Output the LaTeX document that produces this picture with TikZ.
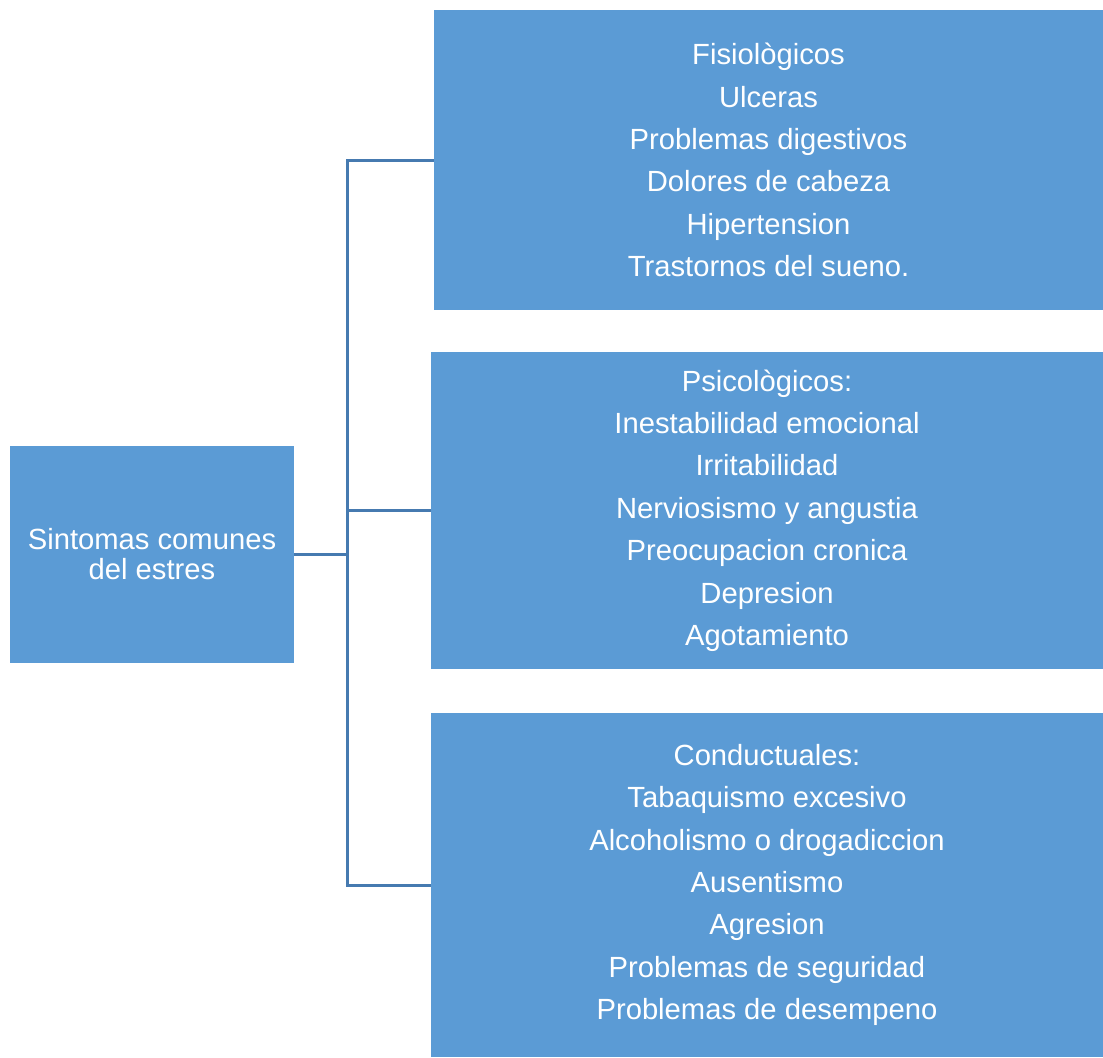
\documentclass[tikz,border=0pt]{standalone}
\usepackage{fontspec}
\setmainfont{Liberation Sans}
\definecolor{boxblue}{RGB}{91,155,213}
\definecolor{lineblue}{RGB}{70,122,176}
\begin{document}
\begin{tikzpicture}[x=.5pt,y=-.5pt,every node/.style={fill=boxblue,text=white,inner sep=0pt,align=center,font=\fontsize{14.6}{21.2}\selectfont},conn/.style={draw=lineblue,line width=1.5pt}]
\useasboundingbox (0,0) rectangle (1103,1057);
\node[minimum width=142pt,minimum height=108.5pt,font=\fontsize{14.6}{15}\selectfont] (root) at (152,554) {Sintomas comunes\\del estres};
\node[minimum width=334.5pt,minimum height=150pt] (fis) at (768.5,160) {Fisiològicos\\Ulceras\\Problemas digestivos\\Dolores de cabeza\\Hipertension\\Trastornos del sueno.};
\node[minimum width=336pt,minimum height=158.5pt] (psi) at (767,510.5) {Psicològicos:\\Inestabilidad emocional\\Irritabilidad\\Nerviosismo y angustia\\Preocupacion cronica\\Depresion\\Agotamiento};
\node[minimum width=336pt,minimum height=172pt] (con) at (767,885) {Conductuales:\\Tabaquismo excesivo\\Alcoholismo o drogadiccion\\Ausentismo\\Agresion\\Problemas de seguridad\\Problemas de desempeno};
\coordinate (trunk) at (347,554);
\draw[conn] (root.east) -- (trunk) (fis.west) -| (trunk) (con.west) -| (trunk) (psi.west) -- (psi.west -| trunk);
\end{tikzpicture}
\end{document}
